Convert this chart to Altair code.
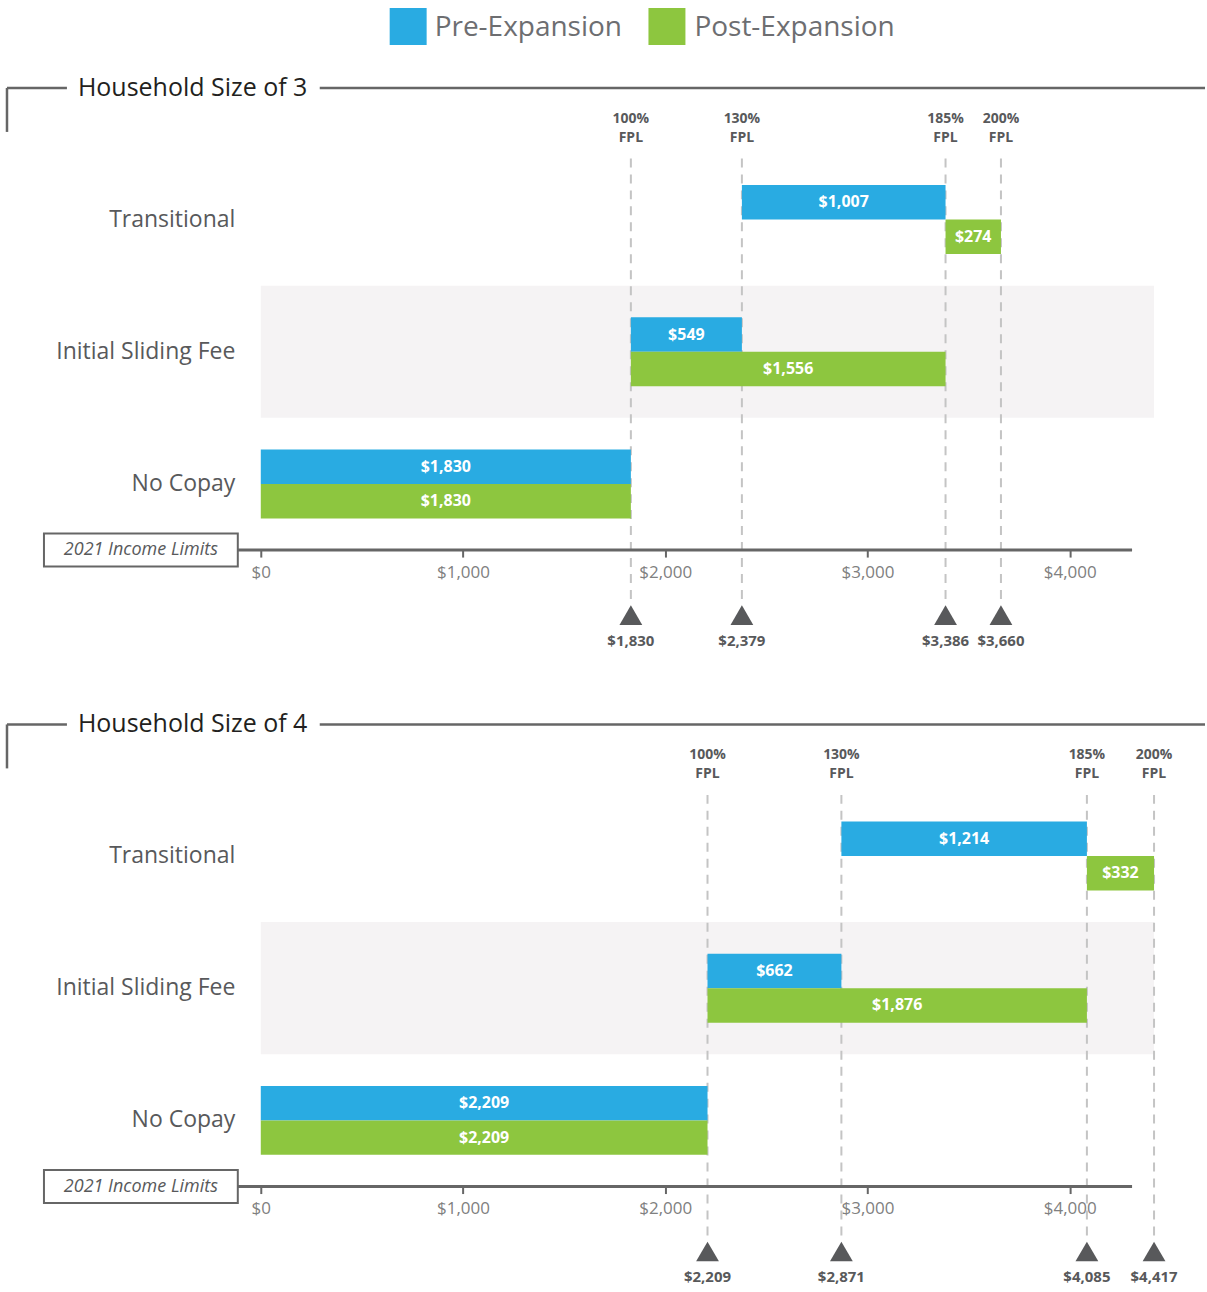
import altair as alt
import pandas as pd

# ---------------- data ----------------
rows = ["Transitional", "Initial Sliding Fee", "No Copay"]
series = ["Pre-Expansion", "Post-Expansion"]
series_colors = ["#29abe2", "#8dc63f"]
fpl_pct = ["100%", "130%", "185%", "200%"]
x_ticks = [0, 1000, 2000, 3000, 4000]
x_max = 4417
shaded_row = "Initial Sliding Fee"

hh3_title = "Household Size of 3"
hh3_fpl = [1830, 2379, 3386, 3660]
hh3_pre_start = [2379, 1830, 0]
hh3_pre_end = [3386, 2379, 1830]
hh3_post_start = [3386, 1830, 0]
hh3_post_end = [3660, 3386, 1830]

hh4_title = "Household Size of 4"
hh4_fpl = [2209, 2871, 4085, 4417]
hh4_pre_start = [2871, 2209, 0]
hh4_pre_end = [4085, 2871, 2209]
hh4_post_start = [4085, 2209, 0]
hh4_post_end = [4417, 4085, 2209]

# ---------------- style ----------------
FONT = "Open Sans"
BOLD = "Open Sans"
W, H = 894, 397
GRAY_TXT = "#58595b"
LINE = "#666666"

one = pd.DataFrame({"a": [0]})

XAXIS = alt.Axis(values=x_ticks, format="$,.0f", domain=False, grid=False, tickSize=7,
                 tickWidth=2, tickColor=LINE, labelFontSize=17, labelColor="#808080",
                 labelFont=FONT, labelPadding=7, labelFlush=False, title=None)
YAXIS = alt.Axis(domain=False, ticks=False, grid=False, labelFontSize=23, labelColor=GRAY_TXT,
                 labelFont=FONT, labelPadding=26, title=None)


def panel(title, fpl, pre_s, pre_e, post_s, post_e, legend):
    bars = pd.DataFrame({
        "row": rows * 2,
        "series": [series[0]] * len(rows) + [series[1]] * len(rows),
        "start": pre_s + post_s,
        "end": pre_e + post_e,
    })
    fdf = pd.DataFrame({"pct": fpl_pct, "value": fpl})
    bg = pd.DataFrame({"row": [shaded_row], "x0": [0], "x1": [x_max]})

    xs = alt.Scale(domain=[0, x_max], nice=False, zero=False)
    ys = alt.Scale(domain=rows, paddingInner=0, paddingOuter=0)
    yo = alt.Scale(domain=series, paddingInner=0, paddingOuter=0.92)
    cs = alt.Scale(domain=series, range=series_colors)

    def X(f):
        return alt.X(f, scale=xs, axis=XAXIS)

    def Y(f):
        return alt.Y(f, scale=ys, axis=YAXIS)

    layers = []
    layers.append(alt.Chart(bg).mark_rect(color="#f5f3f4").encode(
        x=X("x0:Q"), x2="x1:Q", y=Y("row:N")))
    layers.append(alt.Chart(fdf).mark_rule(color="#c4c4c4", strokeWidth=2, strokeDash=[9, 7]).encode(
        x=X("value:Q"), y=alt.value(5), y2=alt.value(H + 52)))
    layers.append(alt.Chart(one).mark_rule(color=LINE, strokeWidth=3).encode(
        x=alt.value(-23), x2=alt.value(872), y=alt.value(H)))
    layers.append(alt.Chart(bars).mark_bar().encode(
        x=X("start:Q"), x2="end:Q", y=Y("row:N"),
        yOffset=alt.YOffset("series:N", scale=yo),
        color=alt.Color("series:N", scale=cs, legend=None)))
    layers.append(alt.Chart(bars).transform_calculate(
        mid="(datum.start + datum.end) / 2",
        label="format(datum.end - datum.start, '$,.0f')").mark_text(
        color="white", fontSize=16, fontWeight="bold", font=BOLD, baseline="middle").encode(
        x=X("mid:Q"), y=Y("row:N"),
        yOffset=alt.YOffset("series:N", scale=yo),
        text="label:N"))
    layers.append(alt.Chart(fdf).mark_text(
        color=GRAY_TXT, fontSize=14, fontWeight="bold", font=BOLD, baseline="middle").encode(
        x=X("value:Q"), y=alt.value(-34.5), text="pct:N"))
    layers.append(alt.Chart(fdf).mark_text(
        color=GRAY_TXT, fontSize=14, fontWeight="bold", font=BOLD, baseline="middle", text="FPL").encode(
        x=X("value:Q"), y=alt.value(-15.5)))
    layers.append(alt.Chart(fdf).mark_point(
        shape="triangle-up", filled=True, opacity=1, size=520, color=GRAY_TXT).encode(
        x=X("value:Q"), y=alt.value(H + 65)))
    layers.append(alt.Chart(fdf).transform_calculate(
        vlab="format(datum.value, '$,.0f')").mark_text(
        color=GRAY_TXT, fontSize=15, fontWeight="bold", font=BOLD, baseline="middle").encode(
        x=X("value:Q"), y=alt.value(H + 91), text="vlab:N"))
    # income limits box
    layers.append(alt.Chart(one).mark_rect(fill="white", stroke=LINE, strokeWidth=2).encode(
        x=alt.value(-217), x2=alt.value(-23), y=alt.value(H - 16.5), y2=alt.value(H + 16.5)))
    layers.append(alt.Chart(one).mark_text(
        text="2021 Income Limits", fontSize=18, fontStyle="italic", font=FONT,
        color=GRAY_TXT, align="center", baseline="middle").encode(
        x=alt.value(-120), y=alt.value(H)))
    # title bracket
    ty = -65.5
    layers.append(alt.Chart(one).mark_rule(color=LINE, strokeWidth=2.5).encode(
        x=alt.value(-254), x2=alt.value(-194), y=alt.value(ty)))
    layers.append(alt.Chart(one).mark_rule(color=LINE, strokeWidth=2.5).encode(
        x=alt.value(-254), y=alt.value(ty), y2=alt.value(-21.5)))
    layers.append(alt.Chart(one).mark_rule(color=LINE, strokeWidth=2.5).encode(
        x=alt.value(59), x2=alt.value(945), y=alt.value(ty)))
    layers.append(alt.Chart(one).mark_text(
        text=title, fontSize=25, font=FONT, color="#231f20", align="left", baseline="middle").encode(
        x=alt.value(-183), y=alt.value(ty)))
    if legend:
        for sx, tx, name, col in [(147.5, 174, series[0], series_colors[0]),
                                  (406.5, 434, series[1], series_colors[1])]:
            layers.append(alt.Chart(one).mark_square(
                size=37 * 37, filled=True, opacity=1, color=col).encode(
                x=alt.value(sx), y=alt.value(-127)))
            layers.append(alt.Chart(one).mark_text(
                text=name, fontSize=28, font=FONT, color="#6d6e71",
                align="left", baseline="middle").encode(
                x=alt.value(tx), y=alt.value(-126)))
    return alt.layer(*layers).properties(width=W, height=H)


p1 = panel(hh3_title, hh3_fpl, hh3_pre_start, hh3_pre_end, hh3_post_start, hh3_post_end, True)
p2 = panel(hh4_title, hh4_fpl, hh4_pre_start, hh4_pre_end, hh4_post_start, hh4_post_end, False)

chart = alt.vconcat(p1, p2, spacing=240, bounds="flush").properties(
    padding={"left": 5, "top": 7, "right": 0, "bottom": 6},
    background="white",
).configure_view(stroke=None)

chart.save("out.html", embed_options={"renderer": "svg", "actions": False})
